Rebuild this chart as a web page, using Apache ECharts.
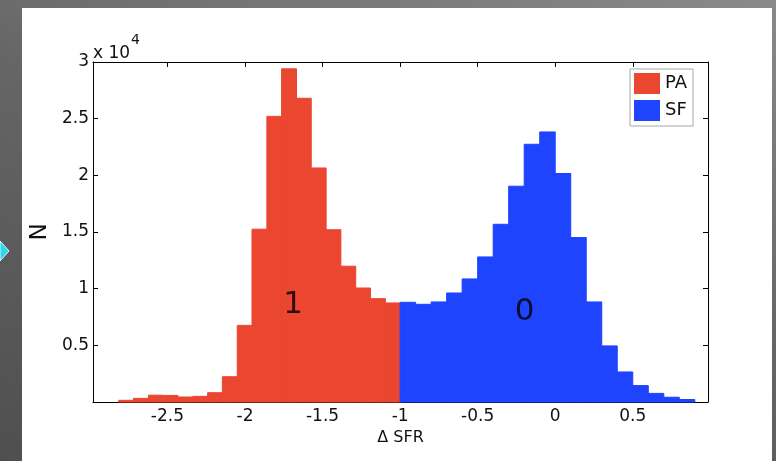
<!DOCTYPE html>
<html><head><meta charset="utf-8">
<script src="https://cdn.jsdelivr.net/npm/echarts@6/dist/echarts.min.js"></script>
<style>
html,body{margin:0;padding:0;}
body{width:776px;height:461px;overflow:hidden;position:relative;background:linear-gradient(200deg,#8a8a8a 0%,#666 45%,#4f4f4f 100%);}
#panel{position:absolute;left:22px;top:8px;width:750px;height:453px;background:#fff;}
#c{position:absolute;left:0;top:0;width:776px;height:461px;}
</style>
</head><body><div id="panel"></div><div id="c"></div>
<script>
// ---- data ----
const paEdges  = [-2.814,-2.719,-2.623,-2.528,-2.432,-2.337,-2.241,-2.146,-2.050,-1.955,-1.859,-1.764,-1.668,-1.573,-1.477,-1.382,-1.286,-1.191,-1.095,-1.000];
const paCounts = [150,320,600,580,440,500,820,2230,6760,15250,25200,29400,26800,20650,15200,11980,10060,9120,8740];
const sfEdges  = [-1.0,-0.9,-0.8,-0.7,-0.6,-0.5,-0.4,-0.3,-0.2,-0.1,0.0,0.1,0.2,0.3,0.4,0.5,0.6,0.7,0.8,0.9];
const sfCounts = [8800,8620,8830,9620,10860,12800,15680,19040,22740,23830,20160,14510,8830,4950,2650,1450,760,420,220];
const annotations = [{text:'1', x:-1.69, y:8560},{text:'0', x:-0.197, y:7950}];
const yTickLabels = ['', '0.5', '1', '1.5', '2', '2.5', '3'];
const yExponent = 4;
const FONT = 'DejaVu Sans';

function bins(edges, counts){
  return counts.map((c,i)=>[edges[i], edges[i+1], c]);
}
function renderBin(params, api){
  const p0 = api.coord([api.value(0), api.value(2)]);
  const p1 = api.coord([api.value(1), 0]);
  return {type:'rect', shape:{x:p0[0], y:p0[1], width:p1[0]-p0[0], height:p1[1]-p0[1]},
          style:{fill:api.visual('color'), stroke:api.visual('color'), lineWidth:1}};
}
const axisLine = {show:true, onZero:false, lineStyle:{color:'#000', width:1}};
const axisTick = {show:true, inside:true, length:5, lineStyle:{color:'#000', width:1}};
const labelStyle = {fontFamily:FONT, fontSize:17, color:'#111'};

const chart = echarts.init(document.getElementById('c'), null, {renderer:'canvas'});
chart.setOption({
  backgroundColor:'transparent',
  animation:false,
  grid:{left:93, right:68, top:62, bottom:59},
  legend:{orient:'vertical', left:630, top:69, itemWidth:26, itemHeight:21, itemGap:6,
    padding:[4,6,5,4], borderColor:'#a8a8a8', borderWidth:1, backgroundColor:'#fff',
    selectedMode:false, textStyle:{fontFamily:FONT, fontSize:18, color:'#111'},
    data:[{name:'PA', icon:'rect'},{name:'SF', icon:'rect'}]},
  xAxis:[
    {type:'value', min:-2.98, max:0.985, splitNumber:8, position:'bottom',
     axisLine, axisTick, splitLine:{show:false},
     axisLabel:Object.assign({showMinLabel:false, showMaxLabel:false, margin:6}, labelStyle),
     name:'\u0394 SFR', nameLocation:'middle', nameGap:27,
     nameTextStyle:{fontFamily:FONT, fontSize:16, color:'#111'}},
    {type:'value', min:-2.98, max:0.985, splitNumber:8, position:'top',
     axisLine, axisTick, splitLine:{show:false}, axisLabel:{show:false}}
  ],
  yAxis:[
    {type:'value', min:0, max:30000, interval:5000, position:'left',
     axisLine, axisTick, splitLine:{show:false},
     axisLabel:Object.assign({margin:4, formatter:(v,i)=>yTickLabels[i] ?? ''}, labelStyle),
     name:'N', nameLocation:'middle', nameGap:41,
     nameTextStyle:{fontFamily:FONT, fontSize:23, color:'#111'}},
    {type:'value', min:0, max:30000, interval:5000, position:'right',
     axisLine, axisTick, splitLine:{show:false}, axisLabel:{show:false}}
  ],
  series:[
    {name:'PA', type:'custom', renderItem:renderBin, itemStyle:{color:'#EB4630'},
     encode:{x:[0,1], y:2}, data:bins(paEdges, paCounts), xAxisIndex:0, yAxisIndex:0},
    {name:'SF', type:'custom', renderItem:renderBin, itemStyle:{color:'#1E44FE'},
     encode:{x:[0,1], y:2}, data:bins(sfEdges, sfCounts), xAxisIndex:0, yAxisIndex:0},
    {name:'notes', type:'scatter', symbolSize:1, itemStyle:{color:'rgba(0,0,0,0)'}, z:5,
     data:annotations.map(a=>({value:[a.x, a.y], name:a.text})),
     label:{show:true, position:'inside', formatter:p=>p.name,
            fontFamily:FONT, fontSize:31, color:'#000'}}
  ],
  graphic:[
    {type:'text', left:93, top:45, style:{text:'x 10', font:'17px "DejaVu Sans"', fill:'#111'}},
    {type:'text', left:131, top:33, style:{text:String(yExponent), font:'14px "DejaVu Sans"', fill:'#111'}},
    {type:'polygon', shape:{points:[[0,241],[9,251],[0,261]]}, style:{fill:'#2fd6ef', stroke:'#e0fbff', lineWidth:1}}
  ]
});
</script>
</body></html>
